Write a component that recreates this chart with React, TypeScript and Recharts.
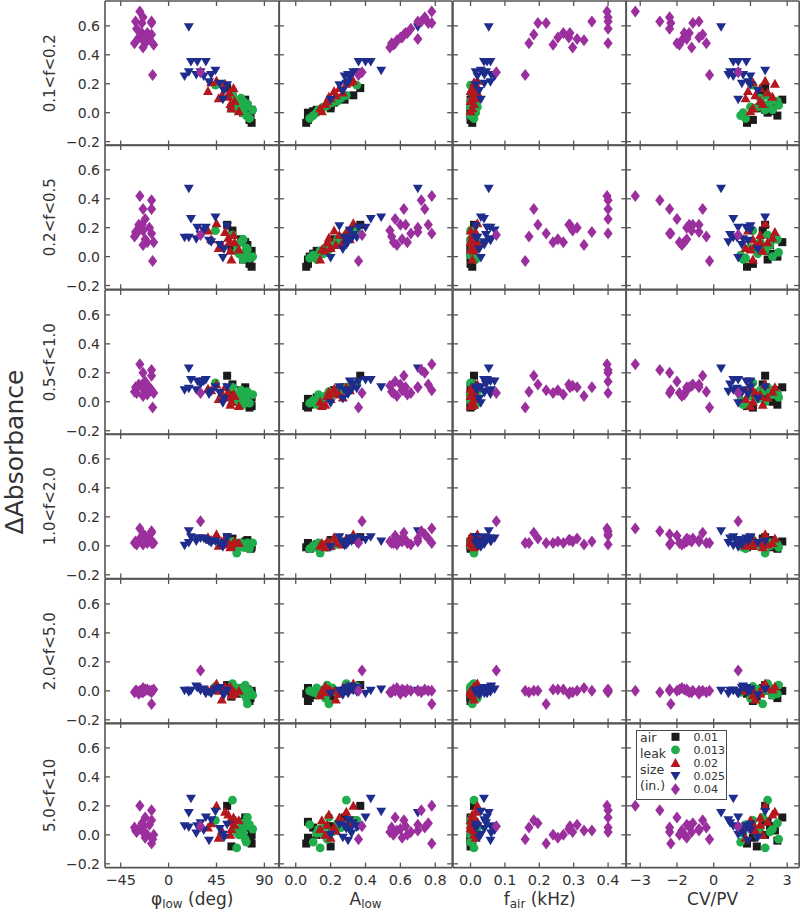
import React from 'react';
import { ScatterChart, Scatter, XAxis, YAxis, Legend } from 'recharts';

// air leak sizes (in.) and their marks
const leakSizes = ['0.01', '0.013', '0.02', '0.025', '0.04'];
const seriesColors = ['#1b1b1b', '#20ad4b', '#b3181e', '#1e2d8c', '#9b2f9d'];
const markerKinds = ['square', 'circle', 'triangle', 'triangleDown', 'diamond'];
const rowLabels = ['0.1<f<0.2', '0.2<f<0.5', '0.5<f<1.0', '1.0<f<2.0', '2.0<f<5.0', '5.0<f<10'];
const legendWords = ['air', 'leak', 'size', '(in.)'];

// tick values / labels
const yTicks = [-0.2, 0, 0.2, 0.4, 0.6];
const yTickLabels = ['\u22120.2', '0.0', '0.2', '0.4', '0.6'];
const phiTicks = [-45, 0, 45, 90];
const phiTickLabels = ['\u221245', '0', '45', '90'];
const aTicks = [0, 0.2, 0.4, 0.6, 0.8];
const aTickLabels = ['0.0', '0.2', '0.4', '0.6', '0.8'];
const fTicks = [0, 0.1, 0.2, 0.3, 0.4];
const fTickLabels = ['0.0', '0.1', '0.2', '0.3', '0.4'];
const cvTicks = [-3, -1.5, 0, 1.5, 3];
const cvTickLabels = ['\u22123', '\u22122', '0', '2', '3'];

// ---- 0.01 in.
const phi001 = [55, 60, 72, 68, 74, 59, 78, 75, 70, 77, 76, 78];
const aLow001 = [0.37, 0.33, 0.28, 0.22, 0.2, 0.2, 0.12, 0.1, 0.07, 0.08, 0.07, 0.06];
const fAir001 = [0.01, 0.005, 0.0, 0.01, 0.005, 0.0, 0.0, 0.01, 0.005, 0.0, 0.0, 0.005];
const cvpv001 = [2.1, 2.0, 2.8, 2.5, 2.3, 1.76, 2.1, 2.4, 2.2, 2.6, 1.6, 1.36];
const dA001 = [
  [0.17, 0.12, 0.09, 0.07, 0.05, 0.03, 0.02, 0.01, 0.0, -0.02, -0.05, -0.07],
  [0.22, 0.18, 0.1, 0.12, 0.08, 0.06, 0.04, 0.02, -0.02, 0.0, -0.05, -0.07],
  [0.18, 0.12, 0.1, 0.08, 0.05, 0.06, 0.03, 0.0, 0.02, -0.02, -0.04, -0.03],
  [0.06, 0.05, 0.03, 0.02, 0.04, 0.0, 0.01, -0.01, 0.02, -0.02, 0.0, -0.01],
  [0.04, 0.02, 0.0, -0.02, 0.01, -0.04, 0.0, -0.03, 0.02, -0.05, -0.07, -0.02],
  [0.2, 0.1, 0.12, 0.03, 0.06, -0.08, 0.0, 0.05, 0.09, -0.04, -0.02, -0.06],
];

// ---- 0.013 in.
const phi013 = [44, 60, 68, 70, 64, 74, 72, 73, 66, 64, 79, 70, 73, 76];
const aLow013 = [0.35, 0.29, 0.26, 0.24, 0.21, 0.19, 0.18, 0.17, 0.16, 0.14, 0.13, 0.12, 0.1, 0.08];
const fAir013 = [0.0, 0.01, 0.02, 0.0, 0.015, 0.005, 0.01, 0.02, 0.0, 0.01, 0.005, 0.015, 0.0, 0.01];
const cvpv013 = [1.6, 2.2, 1.9, 2.6, 2.3, 2.0, 2.65, 1.5, 1.8, 2.1, 2.4, 1.2, 1.1, 1.3];
const dA013 = [
  [0.19, 0.12, 0.1, 0.08, 0.07, 0.06, 0.05, 0.04, 0.04, 0.02, 0.02, 0.0, -0.02, -0.04],
  [0.18, 0.15, 0.1, 0.12, 0.08, 0.05, 0.03, 0.06, 0.02, 0.04, 0.0, -0.02, 0.01, -0.01],
  [0.13, 0.1, 0.08, 0.06, 0.05, 0.07, 0.03, 0.04, 0.02, 0.0, 0.05, -0.02, 0.01, -0.01],
  [0.04, 0.03, 0.02, 0.01, 0.0, 0.02, -0.01, 0.01, 0.0, -0.05, 0.02, -0.01, 0.0, -0.02],
  [0.03, 0.05, 0.0, -0.02, 0.02, -0.09, 0.04, -0.05, 0.01, 0.0, -0.03, 0.02, -0.01, 0.0],
  [0.1, 0.24, 0.05, 0.08, 0.02, 0.12, -0.03, 0.06, 0.0, -0.09, 0.04, 0.01, -0.05, 0.07],
];

// ---- 0.02 in.
const phi02 = [45, 40, 53, 61, 37, 57, 50, 56, 47, 62, 58, 59, 66];
const aLow02 = [0.33, 0.31, 0.29, 0.25, 0.22, 0.27, 0.23, 0.19, 0.2, 0.18, 0.17, 0.14, 0.15];
const fAir02 = [0.02, 0.01, 0.015, 0.005, 0.0, 0.02, 0.01, 0.005, 0.015, 0.0, 0.01, 0.005, 0.0];
const cvpv02 = [2.1, 1.6, 2.5, 1.9, 1.4, 2.2, 1.7, 2.4, 1.3, 1.9, 2.0, 1.6, 1.5];
const dA02 = [
  [0.22, 0.21, 0.2, 0.17, 0.15, 0.14, 0.12, 0.11, 0.1, 0.08, 0.06, 0.03, 0.01],
  [0.23, 0.12, 0.17, 0.15, 0.18, 0.1, 0.08, 0.13, 0.06, 0.1, 0.04, -0.02, 0.05],
  [0.12, 0.08, 0.1, 0.05, 0.09, 0.03, 0.06, 0.07, 0.02, 0.04, -0.02, 0.0, -0.03],
  [0.08, 0.04, 0.05, 0.02, 0.06, 0.01, 0.03, 0.02, 0.0, 0.03, -0.01, 0.0, 0.02],
  [0.05, 0.01, 0.03, -0.02, 0.0, 0.02, -0.06, 0.01, 0.0, -0.01, 0.03, -0.03, 0.0],
  [0.2, 0.08, 0.16, 0.12, 0.05, 0.09, 0.03, 0.14, -0.02, 0.07, 0.0, 0.04, 0.1],
];

// ---- 0.025 in.
const phi025 = [19, 21, 27, 35, 44, 19, 30, 26, 40, 15, 33, 38, 48, 55, 52, 51];
const aLow025 = [0.7, 0.43, 0.36, 0.4, 0.49, 0.35, 0.33, 0.32, 0.3, 0.28, 0.31, 0.3, 0.29, 0.25, 0.27, 0.2];
const fAir025 = [0.053, 0.039, 0.058, 0.048, 0.03, 0.015, 0.045, 0.06, 0.04, 0.02, 0.07, 0.058, 0.04, 0.015, 0.025, 0.03];
const cvpv025 = [0.3, 0.8, 1.33, 1.0, 2.1, 0.95, 0.67, 1.2, 0.6, 0.8, 1.5, 1.4, 1.15, 1.5, 1.8, 1.0];
const dA025 = [
  [0.59, 0.35, 0.35, 0.35, 0.29, 0.28, 0.28, 0.26, 0.26, 0.25, 0.25, 0.21, 0.2, 0.19, 0.15, 0.09],
  [0.47, 0.26, 0.2, 0.2, 0.27, 0.13, 0.15, 0.12, 0.1, 0.13, 0.18, 0.11, 0.08, 0.21, 0.05, -0.01],
  [0.23, 0.15, 0.14, 0.15, 0.1, 0.09, 0.12, 0.08, 0.07, 0.08, 0.14, 0.05, 0.06, 0.1, 0.02, -0.01],
  [0.1, 0.06, 0.05, 0.04, 0.03, 0.02, 0.05, 0.03, 0.02, 0.0, 0.05, 0.03, 0.01, 0.06, 0.02, -0.01],
  [0.0, 0.0, 0.02, -0.02, 0.01, -0.01, 0.0, 0.03, -0.02, 0.0, 0.01, -0.01, 0.02, 0.0, -0.03, -0.02],
  [0.15, 0.25, 0.06, 0.12, 0.16, 0.05, 0.08, 0.01, 0.1, 0.06, 0.03, -0.04, 0.04, 0.07, -0.02, 0.0],
];

// ---- 0.04 in.
const phi04 = [-27, -24, -16, -31, -25, -16, -30, -25, -20, -16, -28, -22, -18, -24, -32, -22, -14, -24, 30, -15];
const aLow04 = [0.78, 0.74, 0.72, 0.7, 0.76, 0.78, 0.66, 0.63, 0.64, 0.62, 0.6, 0.61, 0.7, 0.58, 0.55, 0.57, 0.56, 0.54, 0.38, 0.36];
const fAir04 = [0.397, 0.4, 0.4, 0.353, 0.196, 0.22, 0.4, 0.289, 0.27, 0.184, 0.286, 0.254, 0.31, 0.33, 0.17, 0.4, 0.24, 0.297, 0.075, 0.159];
const cvpv04 = [-3.2, -1.8, -2.2, -0.6, -0.85, -1.75, -1.8, -1.0, -1.2, -0.45, -0.6, -1.1, -1.1, -1.3, -0.3, -1.5, -1.4, -0.9, 1.0, -0.17];
const dA04 = [
  [0.7, 0.66, 0.63, 0.63, 0.62, 0.62, 0.58, 0.55, 0.55, 0.54, 0.52, 0.52, 0.51, 0.5, 0.48, 0.48, 0.47, 0.45, 0.28, 0.26],
  [0.42, 0.33, 0.39, 0.17, 0.22, 0.16, 0.16, 0.22, 0.1, 0.33, 0.22, 0.12, 0.2, 0.08, 0.14, 0.26, 0.1, 0.18, 0.15, -0.03],
  [0.26, 0.2, 0.22, 0.1, 0.12, 0.08, 0.06, 0.1, 0.05, 0.18, 0.12, 0.08, 0.1, 0.04, 0.07, 0.14, 0.06, 0.11, 0.06, -0.04],
  [0.12, 0.08, 0.1, 0.03, 0.05, 0.02, 0.01, 0.04, 0.02, 0.09, 0.04, 0.03, 0.05, 0.01, 0.02, 0.07, 0.02, 0.03, 0.17, 0.02],
  [0.0, 0.01, -0.01, 0.0, 0.0, -0.09, 0.0, -0.01, 0.01, 0.0, -0.02, 0.01, 0.0, 0.02, -0.01, 0.0, 0.01, -0.01, 0.14, 0.0],
  [0.2, 0.05, 0.17, 0.03, 0.08, -0.06, 0.02, 0.06, 0.0, 0.1, 0.04, -0.02, 0.07, 0.03, 0.05, 0.12, 0.0, 0.02, 0.06, -0.03],
];

const phiLow = [phi001, phi013, phi02, phi025, phi04];
const aLow = [aLow001, aLow013, aLow02, aLow025, aLow04];
const fAir = [fAir001, fAir013, fAir02, fAir025, fAir04];
const cvpv = [cvpv001, cvpv013, cvpv02, cvpv025, cvpv04];
const dAbs = [dA001, dA013, dA02, dA025, dA04];

const columns = [
  { attr: phiLow, domain: [-59.75, 104], ticks: phiTicks, labels: phiTickLabels, title: ['\u03c6', 'low', ' (deg)'] },
  { attr: aLow, domain: [-0.096, 0.897], ticks: aTicks, labels: aTickLabels, title: ['A', 'low', ''] },
  { attr: fAir, domain: [-0.051, 0.453], ticks: fTicks, labels: fTickLabels, title: ['f', 'air', ' (kHz)'] },
  { attr: cvpv, domain: [-3.58, 3.49], ticks: cvTicks, labels: cvTickLabels, title: ['CV/PV', '', ''] },
];

// panel grid (page px)
const colEdges = [105, 279.3, 452.5, 625.8, 799];
const rowEdges = [0.8, 145.2, 289.5, 434, 578.6, 723.2, 867.8];
const yDomain = [-0.226, 0.772];

const font = '"DejaVu Sans", sans-serif';
const axisColor = '#555';
const textColor = '#333';
const TICK = 5;
const AX = 1; // axis box size (recharts skips axes of size 0)
const axisLine = { stroke: axisColor, strokeWidth: 1.6 };

function Marker({ kind, cx, cy, color }: any) {
  if (cx == null || cy == null) return null;
  if (kind === 'square') return <rect x={cx - 4} y={cy - 4} width={8} height={8} fill={color} />;
  if (kind === 'circle') return <circle cx={cx} cy={cy} r={4.4} fill={color} />;
  if (kind === 'triangle')
    return <polygon points={`${cx},${cy - 5} ${cx + 5},${cy + 4} ${cx - 5},${cy + 4}`} fill={color} />;
  if (kind === 'triangleDown')
    return <polygon points={`${cx - 5},${cy - 4} ${cx + 5},${cy - 4} ${cx},${cy + 4.5}`} fill={color} />;
  return <polygon points={`${cx},${cy - 6} ${cx + 4.6},${cy} ${cx},${cy + 6} ${cx - 4.6},${cy}`} fill={color} />;
}

function tickLabel(ticks: number[], labels: string[], v: number) {
  const i = ticks.findIndex((t) => Math.abs(t - v) < 1e-9);
  return i >= 0 ? labels[i] : String(v);
}

// bottom axis: tick y is the top of the 1px axis box, i.e. the plot's bottom edge
function BottomTick({ x, y, payload, ticks, labels, show }: any) {
  return (
    <g>
      <line x1={x} y1={y} x2={x} y2={y - TICK} stroke={axisColor} strokeWidth={1.3} />
      {show && (
        <text x={x} y={y + 17} textAnchor="middle" fontSize={14.5} fill={textColor} fontFamily={font}>
          {tickLabel(ticks, labels, payload.value)}
        </text>
      )}
    </g>
  );
}

function TopTick({ x, y }: any) {
  return <line x1={x} y1={y} x2={x} y2={y + TICK} stroke={axisColor} strokeWidth={1.3} />;
}

function LeftTick({ x, y, payload, show }: any) {
  return (
    <g>
      <line x1={x} y1={y} x2={x + TICK} y2={y} stroke={axisColor} strokeWidth={1.3} />
      {show && (
        <text x={x - 5} y={y + 5} textAnchor="end" fontSize={14} fill={textColor} fontFamily={font}>
          {tickLabel(yTicks, yTickLabels, payload.value)}
        </text>
      )}
    </g>
  );
}

function RightTick({ x, y }: any) {
  return <line x1={x} y1={y} x2={x - TICK} y2={y} stroke={axisColor} strokeWidth={1.3} />;
}

function AxisTitle({ viewBox, parts }: any) {
  if (!viewBox) return null;
  const { x, y, width } = viewBox;
  return (
    <text x={x + width / 2} y={y + 37} textAnchor="middle" fontSize={17} fill={textColor} fontFamily={font}>
      {parts[0]}
      {parts[1] ? (
        <tspan dy={3.5} fontSize={12}>
          {parts[1]}
        </tspan>
      ) : null}
      {parts[2] ? <tspan dy={parts[1] ? -3.5 : 0}>{parts[2]}</tspan> : null}
    </text>
  );
}

function RowTitle({ viewBox, text }: any) {
  if (!viewBox) return null;
  const tx = viewBox.x + viewBox.width - 50;
  const ty = viewBox.y + viewBox.height / 2;
  return (
    <text x={tx} y={ty} transform={`rotate(-90 ${tx} ${ty})`} textAnchor="middle" fontSize={15} fill={textColor} fontFamily={font}>
      {text}
    </text>
  );
}

function LeakLegend({ payload }: any) {
  const items = payload || [];
  return (
    <div style={{ width: 91, height: 70, boxSizing: 'border-box', border: '1.5px solid #4a4a4a', background: '#fff' }}>
      <svg width={88} height={67} style={{ display: 'block' }}>
        {legendWords.map((w, i) => (
          <text key={w} x={3} y={10.5 + 16 * i} fontSize={12.5} fill={textColor} fontFamily={font}>
            {w}
          </text>
        ))}
        {items.map((entry: any, i: number) => (
          <g key={entry.value}>
            <Marker kind={markerKinds[i]} cx={38.5} cy={5.8 + 13.1 * i} color={entry.color} />
            <text x={56.5} y={9.8 + 13.1 * i} fontSize={11} fill={textColor} fontFamily={font}>
              {entry.value}
            </text>
          </g>
        ))}
      </svg>
    </div>
  );
}

function Panel({ row, col }: { row: number; col: number }) {
  const c = columns[col];
  const out = { top: 8, right: 8, bottom: row === 5 ? 45 : 8, left: col === 0 ? 105 : 8 };
  const m = { top: out.top - AX, right: out.right - AX, bottom: out.bottom - AX, left: out.left - AX };
  const pw = colEdges[col + 1] - colEdges[col];
  const ph = rowEdges[row + 1] - rowEdges[row];
  const showX = row === 5;
  const showY = col === 0;
  return (
    <div style={{ position: 'absolute', left: colEdges[col] - out.left, top: rowEdges[row] - out.top }}>
      <ScatterChart width={pw + out.left + out.right} height={ph + out.top + out.bottom} margin={m}>
        <XAxis
          type="number"
          dataKey="x"
          domain={c.domain}
          allowDataOverflow
          ticks={c.ticks}
          interval={0}
          height={AX}
          tickSize={0}
          tickMargin={0}
          tickLine={false}
          axisLine={axisLine}
          tick={(p: any) => <BottomTick {...p} ticks={c.ticks} labels={c.labels} show={showX} />}
          label={showX ? { content: (p: any) => <AxisTitle viewBox={p.viewBox} parts={c.title} /> } : undefined}
        />
        <XAxis
          xAxisId="top"
          orientation="top"
          type="number"
          dataKey="x"
          domain={c.domain}
          allowDataOverflow
          ticks={c.ticks}
          interval={0}
          height={AX}
          tickSize={0}
          tickMargin={0}
          tickLine={false}
          axisLine={axisLine}
          tick={(p: any) => <TopTick {...p} />}
        />
        <YAxis
          type="number"
          dataKey="y"
          domain={yDomain}
          allowDataOverflow
          ticks={yTicks}
          interval={0}
          width={AX}
          tickSize={0}
          tickMargin={0}
          tickLine={false}
          axisLine={axisLine}
          tick={(p: any) => <LeftTick {...p} show={showY} />}
          label={showY ? { content: (p: any) => <RowTitle viewBox={p.viewBox} text={rowLabels[row]} /> } : undefined}
        />
        <YAxis
          yAxisId="right"
          orientation="right"
          type="number"
          dataKey="y"
          domain={yDomain}
          allowDataOverflow
          ticks={yTicks}
          interval={0}
          width={AX}
          tickSize={0}
          tickMargin={0}
          tickLine={false}
          axisLine={axisLine}
          tick={(p: any) => <RightTick {...p} />}
        />
        {leakSizes.map((size, s) => (
          <Scatter
            key={size}
            name={size}
            data={c.attr[s].map((x: number, i: number) => ({ x, y: dAbs[s][row][i] }))}
            fill={seriesColors[s]}
            isAnimationActive={false}
            shape={(p: any) => <Marker kind={markerKinds[s]} cx={p.cx} cy={p.cy} color={seriesColors[s]} />}
          />
        ))}
        {row === 5 && col === 3 && (
          <Legend
            layout="vertical"
            align="center"
            verticalAlign="middle"
            wrapperStyle={{ left: 18.2, top: 14.8, width: 91, height: 70 }}
            content={(p: any) => <LeakLegend payload={p.payload} />}
          />
        )}
      </ScatterChart>
    </div>
  );
}

export default function App() {
  const cells: { row: number; col: number }[] = [];
  for (let r = 0; r < 6; r++) for (let c = 0; c < 4; c++) cells.push({ row: r, col: c });
  return (
    <div style={{ position: 'absolute', left: 0, top: 0, width: 800, height: 913, background: '#fff', overflow: 'hidden' }}>
      {cells.map(({ row, col }) => (
        <Panel key={`${row}-${col}`} row={row} col={col} />
      ))}
      <svg width={40} height={913} style={{ position: 'absolute', left: 0, top: 0 }}>
        <text x={23} y={452} transform="rotate(-90 23 452)" textAnchor="middle" fontSize={25} fill={textColor} fontFamily={font}>
          {'\u0394Absorbance'}
        </text>
      </svg>
    </div>
  );
}
